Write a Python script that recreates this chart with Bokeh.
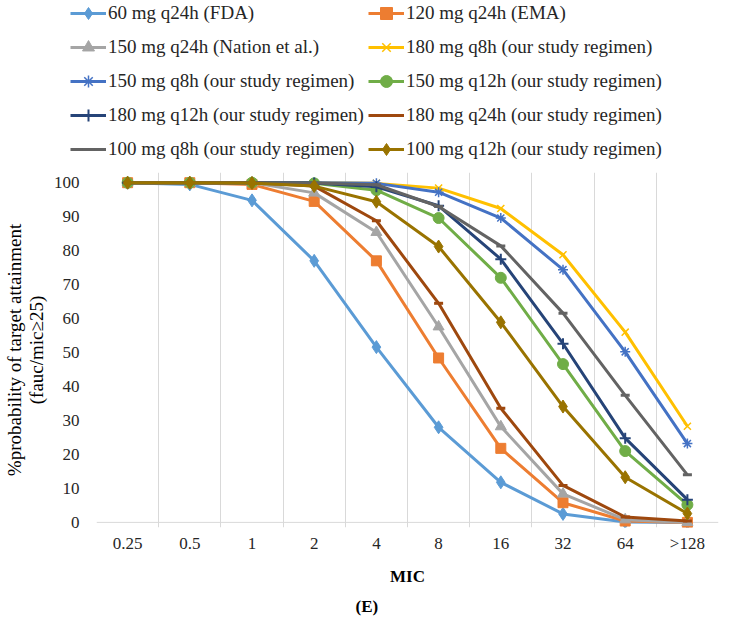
from bokeh.plotting import figure
from bokeh.models import Range1d, FixedTicker, Legend, LegendItem, Span, Title
from bokeh.embed import file_html
from bokeh.resources import INLINE

# ---------------- data ----------------
mic_labels = ["0.25", "0.5", "1", "2", "4", "8", "16", "32", "64", ">128"]

fda_60_q24h = [100, 99.5, 94.8, 77.0, 51.6, 28.0, 11.8, 2.5, 0.1, 0.0]
ema_120_q24h = [100, 100, 99.5, 94.5, 77.0, 48.4, 21.8, 5.8, 0.4, 0.0]
nation_150_q24h = [100, 100, 100, 97.0, 85.4, 57.6, 28.2, 8.4, 0.8, 0.0]
study_180_q8h = [100, 100, 100, 100, 99.8, 98.4, 92.4, 78.8, 56.0, 28.3]
study_150_q8h = [100, 100, 100, 100, 99.8, 97.2, 89.6, 74.4, 50.2, 23.2]
study_150_q12h = [100, 100, 100, 99.8, 97.8, 89.6, 72.0, 46.6, 21.0, 5.2]
study_180_q12h = [100, 100, 100, 99.9, 98.8, 93.2, 77.5, 52.6, 24.8, 6.7]
study_180_q24h = [100, 100, 100, 99.0, 88.8, 64.5, 33.6, 10.9, 1.6, 0.4]
study_100_q8h = [100, 100, 100, 99.9, 99.4, 93.0, 81.4, 61.6, 37.4, 14.0]
study_100_q12h = [100, 100, 99.9, 99.0, 94.4, 81.2, 58.9, 34.1, 13.3, 2.6]

series_labels = [
    "60 mg q24h (FDA)",
    "120 mg q24h (EMA)",
    "150 mg q24h (Nation et al.)",
    "180 mg q8h (our study regimen)",
    "150 mg q8h (our study regimen)",
    "150 mg q12h (our study regimen)",
    "180 mg q12h (our study regimen)",
    "180 mg q24h (our study regimen)",
    "100 mg q8h (our study regimen)",
    "100 mg q12h (our study regimen)",
]
series_values = [fda_60_q24h, ema_120_q24h, nation_150_q24h, study_180_q8h,
                 study_150_q8h, study_150_q12h, study_180_q12h, study_180_q24h,
                 study_100_q8h, study_100_q12h]
series_colors = ["#5B9BD5", "#ED7D31", "#A5A5A5", "#FFC000", "#4472C4",
                 "#70AD47", "#264478", "#9E480E", "#636363", "#997300"]
series_markers = ["diamond", "square", "triangle", "x", "asterisk",
                  "circle", "cross", "dash", "dash", "diamond"]
marker_sizes = [13, 10, 11, 10, 10, 11, 11, 9, 9, 13]
marker_lws = [1, 1, 1, 1.5, 1.5, 1, 2, 3, 3, 1]

y_ticks = list(range(0, 101, 10))

FONT = "Liberation Serif"
x = list(range(len(mic_labels)))

# ---------------- legend strip (top) ----------------
lf = figure(width=722, height=172, min_border=0,
            min_border_left=0, min_border_right=0,
            min_border_top=0, min_border_bottom=0,
            x_range=Range1d(1000, 1001), y_range=Range1d(1000, 1001),
            x_axis_location=None, y_axis_location=None,
            output_backend="svg", toolbar_location=None)
lf.outline_line_color = None
lf.grid.visible = False

items = []
for lab, vals, col, mk, ms, mlw in zip(series_labels, series_values, series_colors,
                                       series_markers, marker_sizes, marker_lws):
    lr = lf.line(x, vals, line_color=col, line_width=3)
    sr = lf.scatter(x, vals, marker=mk, size=ms, fill_color=col, line_color=col,
                    line_width=mlw)
    items.append(LegendItem(label=lab, renderers=[lr, sr]))

legend = Legend(items=items, orientation="horizontal", ncols=2,
                location=(70, 8), padding=0, margin=0, spacing=4,
                glyph_width=36, glyph_height=30, label_height=30,
                label_standoff=2, label_text_font=FONT,
                label_text_font_size="19px", label_text_color="#262626",
                border_line_alpha=0, background_fill_alpha=0)
lf.add_layout(legend)

# ---------------- main chart ----------------
p = figure(width=722, height=451,
           min_border_left=88, min_border_right=4,
           min_border_top=0, min_border_bottom=96,
           x_range=Range1d(-0.5, 9.5), y_range=Range1d(-1.5, 103),
           output_backend="svg", toolbar_location=None)
p.outline_line_color = None
p.background_fill_color = "white"
p.border_fill_color = "white"

# axis line at 0
p.add_layout(Span(location=0, dimension="width", line_color="#D9D9D9",
                  line_width=1, level="underlay"))

for vals, col, mk, ms, mlw in zip(series_values, series_colors,
                                  series_markers, marker_sizes, marker_lws):
    p.line(x, vals, line_color=col, line_width=3)
    p.scatter(x, vals, marker=mk, size=ms, fill_color=col, line_color=col,
              line_width=mlw)

# x axis
p.xaxis.ticker = FixedTicker(ticks=x, minor_ticks=[i - 0.5 for i in range(len(mic_labels) + 1)])
p.xaxis.major_label_overrides = {i: lab for i, lab in enumerate(mic_labels)}
p.xaxis.axis_line_color = None
p.xaxis.major_tick_line_color = None
p.xaxis.minor_tick_line_color = None
p.xaxis.major_tick_out = 0
p.xaxis.major_tick_in = 0
p.xaxis.major_label_standoff = 2
p.xaxis.major_label_text_font = FONT
p.xaxis.major_label_text_font_size = "17px"
p.xaxis.major_label_text_color = "#262626"
p.xaxis.axis_label = "MIC"
p.xaxis.axis_label_text_font = FONT
p.xaxis.axis_label_text_font_size = "17px"
p.xaxis.axis_label_text_font_style = "bold"
p.xaxis.axis_label_text_color = "#000000"
p.xaxis.axis_label_standoff = 11

p.xgrid.grid_line_color = None
p.xgrid.minor_grid_line_color = "#D9D9D9"
p.ygrid.grid_line_color = None

# y axis
p.yaxis.ticker = FixedTicker(ticks=y_ticks)
p.yaxis.axis_line_color = None
p.yaxis.major_tick_line_color = None
p.yaxis.minor_tick_line_color = None
p.yaxis.major_tick_out = 0
p.yaxis.major_tick_in = 0
p.yaxis.major_label_standoff = 17
p.yaxis.major_label_text_font = FONT
p.yaxis.major_label_text_font_size = "17px"
p.yaxis.major_label_text_color = "#262626"
p.yaxis.axis_label = "%probability of target attainment\n(fauc/mic\u226525)"
p.yaxis.axis_label_text_font = FONT
p.yaxis.axis_label_text_font_size = "19px"
p.yaxis.axis_label_text_font_style = "normal"
p.yaxis.axis_label_text_color = "#000000"
p.yaxis.axis_label_text_line_height = 1.05
p.yaxis.axis_label_standoff = 4

cap = Title(text="(E)", align="left", offset=259, text_font=FONT,
            text_font_size="17px", text_font_style="bold", text_color="#000000",
            standoff=12)
p.add_layout(cap, "below")

open("out.html", "w").write(file_html([lf, p], INLINE))
